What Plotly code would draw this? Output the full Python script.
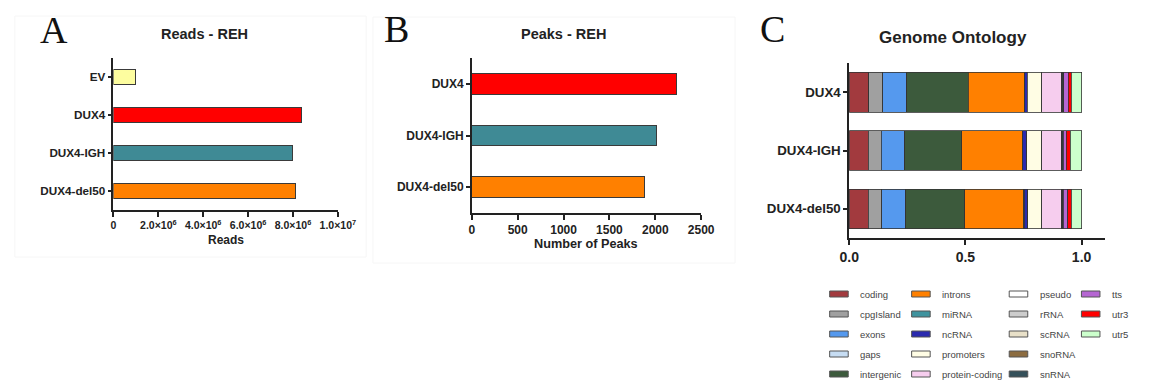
import plotly.graph_objects as go

W, H = 1157, 387

# ---------------- data ----------------
reads_cats = ["EV", "DUX4", "DUX4-IGH", "DUX4-del50"]
reads_vals = [1.0e6, 8.36e6, 7.99e6, 8.09e6]
reads_colors = ["#FDFD9F", "#FF0000", "#3F8A95", "#FF8000"]
reads_ticks = [0, 2e6, 4e6, 6e6, 8e6, 1e7]
reads_ticktext = ["0", "2.0×10<sup>6</sup>", "4.0×10<sup>6</sup>", "6.0×10<sup>6</sup>",
                  "8.0×10<sup>6</sup>", "1.0×10<sup>7</sup>"]

peaks_cats = ["DUX4", "DUX4-IGH", "DUX4-del50"]
peaks_vals = [2228, 2015, 1880]
peaks_colors = ["#FF0000", "#3F8A95", "#FF8000"]
peaks_ticks = [0, 500, 1000, 1500, 2000, 2500]

onto_samples = ["DUX4", "DUX4-IGH", "DUX4-del50"]
onto_features = ["coding", "cpgIsland", "exons", "gaps", "intergenic",
                 "introns", "miRNA", "ncRNA", "promoters", "protein-coding",
                 "pseudo", "rRNA", "scRNA", "snoRNA", "snRNA",
                 "tts", "utr3", "utr5"]
onto_colors = ["#A23A3E", "#A0A0A0", "#5599EE", "#C6DCF2", "#3C5A3C",
               "#FF8000", "#3F939E", "#2A2AAE", "#FFFDE4", "#F6CDEE",
               "#FFFFFF", "#CCCCCC", "#E8E0C8", "#8C6C40", "#34505A",
               "#B566D2", "#FF0000", "#CCFFCC"]
onto_dux4 = [0.085, 0.059, 0.104, 0.0, 0.264, 0.243, 0.001, 0.010, 0.062, 0.084,
             0.002, 0.001, 0.001, 0.001, 0.006, 0.019, 0.014, 0.044]
onto_igh = [0.081, 0.056, 0.102, 0.0, 0.245, 0.260, 0.003, 0.018, 0.063, 0.084,
            0.001, 0.001, 0.001, 0.001, 0.004, 0.015, 0.017, 0.048]
onto_del50 = [0.081, 0.060, 0.102, 0.0, 0.255, 0.253, 0.002, 0.015, 0.060, 0.085,
              0.002, 0.001, 0.001, 0.001, 0.004, 0.018, 0.015, 0.045]
onto_ticks = [0.0, 0.5, 1.0]
onto_ticktext = ["0.0", "0.5", "1.0"]


def px(x):
    return x / W


def py(y):
    return 1 - y / H


FONT = "Liberation Sans, Arial, sans-serif"
AX = "#222222"
OUTLINE = "#3a3a3a"

fig = go.Figure()

fig.add_trace(go.Bar(x=reads_vals, y=reads_cats, orientation="h", width=0.4,
                     marker=dict(color=reads_colors, line=dict(color=OUTLINE, width=1)),
                     xaxis="x", yaxis="y", showlegend=False))
fig.add_trace(go.Bar(x=peaks_vals, y=peaks_cats, orientation="h", width=0.4,
                     marker=dict(color=peaks_colors, line=dict(color=OUTLINE, width=1)),
                     xaxis="x2", yaxis="y2", showlegend=False))
for i, (feat, col) in enumerate(zip(onto_features, onto_colors)):
    fig.add_trace(go.Bar(x=[onto_dux4[i], onto_igh[i], onto_del50[i]], y=onto_samples,
                         orientation="h", width=0.68, name=feat,
                         marker=dict(color=col, line=dict(color="#333333", width=0.8)),
                         xaxis="x3", yaxis="y3", showlegend=False))


def tf(size):
    return dict(family=FONT, size=size, color="#222", weight="bold")


common_x = dict(showline=True, linecolor=AX, linewidth=1.6, ticks="outside", ticklen=5,
                tickwidth=1.5, tickcolor=AX, showgrid=False, zeroline=False)
common_y = dict(showline=True, linecolor=AX, linewidth=1.6, ticks="outside", ticklen=4,
                tickwidth=1.5, tickcolor=AX, showgrid=False, zeroline=False,
                categoryorder="array")

fig.update_layout(
    width=W, height=H, margin=dict(l=0, r=0, t=0, b=0), autosize=False,
    paper_bgcolor="white", plot_bgcolor="white", barmode="stack",
    xaxis=dict(common_x, domain=[px(106), px(336)], range=[0, 1e7], anchor="y",
               tickmode="array", tickvals=reads_ticks, ticktext=reads_ticktext,
               tickfont=tf(10.5)),
    yaxis=dict(common_y, domain=[py(210), py(58)], anchor="x", categoryarray=reads_cats,
               range=[3.5, -0.5], tickfont=tf(11.7)),
    xaxis2=dict(common_x, domain=[px(473.3), px(708.3)], range=[0, 2500], anchor="y2",
                tickmode="array", tickvals=peaks_ticks, tickfont=tf(12)),
    yaxis2=dict(common_y, domain=[py(213), py(58)], anchor="x2", categoryarray=peaks_cats,
                range=[2.5, -0.5], tickfont=tf(12)),
    xaxis3=dict(common_x, domain=[px(860), px(1122)], range=[0, 1.1], anchor="y3",
                tickmode="array", tickvals=onto_ticks, ticktext=onto_ticktext,
                tickfont=tf(14)),
    yaxis3=dict(common_y, domain=[py(238), py(63)], anchor="x3", categoryarray=onto_samples,
                range=[2.5, -0.5], tickfont=tf(13.3)),
)

ann = []


def text(x, y, s, size, bold=True, family=FONT, color="#222", xanchor="center"):
    ann.append(dict(x=px(x), y=py(y), xref="paper", yref="paper", text=s, showarrow=False,
                    xanchor=xanchor, yanchor="middle",
                    font=dict(family=family, size=size, color=color,
                              weight="bold" if bold else "normal")))


SERIF = "Liberation Serif, Times New Roman, serif"
text(45, 30, "A", 38, bold=False, family=SERIF, color="#111")
text(396, 29, "B", 38, bold=False, family=SERIF, color="#111")
text(781, 29, "C", 38, bold=False, family=SERIF, color="#111")
text(199, 34, "Reads - REH", 14.5)
text(567, 34, "Peaks - REH", 14.5)
text(966, 37, "Genome Ontology", 17)
text(221, 240, "Reads", 12)
text(590, 244, "Number of Peaks", 12.7)

shapes = []
# very faint panel frames
for (x0, y0, x1, y1) in [(5, 16, 365, 257), (372, 17, 743, 263)]:
    shapes.append(dict(type="rect", xref="paper", yref="paper", layer="below",
                       x0=px(x0), x1=px(x1), y0=py(y1), y1=py(y0),
                       line=dict(color="#f6f6f6", width=1), fillcolor="rgba(0,0,0,0)"))

# legend for panel C (column-major, 5 rows)
leg_cols = [840, 924, 1024, 1098]
for i, (feat, col) in enumerate(zip(onto_features, onto_colors)):
    c, r = divmod(i, 5)
    x0 = leg_cols[c]
    yc = 294 + 20 * r
    shapes.append(dict(type="rect", xref="paper", yref="paper",
                       x0=px(x0), x1=px(x0 + 19), y0=py(yc + 3), y1=py(yc - 3),
                       fillcolor=col, line=dict(color="#555", width=1)))
    text(x0 + 29, yc, feat, 9.5, bold=False, color="#444", xanchor="left")

fig.update_layout(annotations=ann, shapes=shapes)
fig.write_html("out.html")
